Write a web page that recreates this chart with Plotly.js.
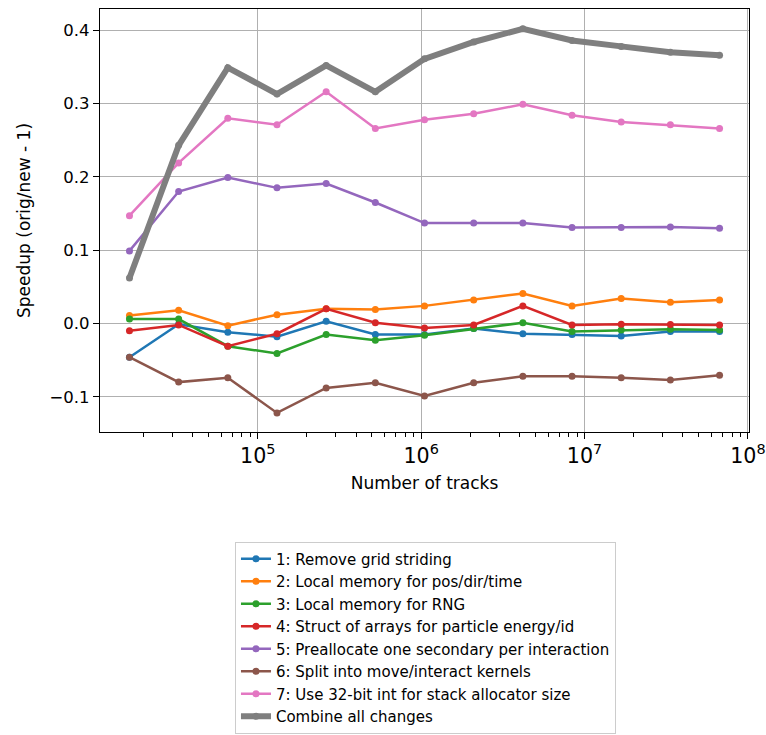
<!DOCTYPE html>
<html>
<head>
<meta charset="utf-8">
<script src="https://cdn.plot.ly/plotly-3.0.1.min.js"></script>
<style>html,body{margin:0;padding:0;background:#fff;}#chart{width:766px;height:735px;}</style>
</head>
<body>
<div id="chart"></div>
<script>
const tracks = [16384, 32768, 65536, 131072, 262144, 524288, 1048576, 2097152, 4194304, 8388608, 16777216, 33554432, 67108864];

const seriesNames = [
  "1: Remove grid striding",
  "2: Local memory for pos/dir/time",
  "3: Local memory for RNG",
  "4: Struct of arrays for particle energy/id",
  "5: Preallocate one secondary per interaction",
  "6: Split into move/interact kernels",
  "7: Use 32-bit int for stack allocator size",
  "Combine all changes"
];

const s1 = [-0.046, -0.001, -0.012, -0.018, 0.003, -0.015, -0.015, -0.007, -0.014, -0.015, -0.017, -0.011, -0.011];
const s2 = [0.011, 0.018, -0.003, 0.012, 0.020, 0.019, 0.024, 0.032, 0.041, 0.024, 0.034, 0.029, 0.032];
const s3 = [0.006, 0.006, -0.031, -0.041, -0.015, -0.023, -0.016, -0.007, 0.001, -0.011, -0.009, -0.008, -0.009];
const s4 = [-0.010, -0.002, -0.031, -0.014, 0.020, 0.001, -0.006, -0.002, 0.024, -0.002, -0.001, -0.0015, -0.002];
const s5 = [0.099, 0.180, 0.199, 0.185, 0.191, 0.165, 0.137, 0.137, 0.137, 0.131, 0.131, 0.1315, 0.130];
const s6 = [-0.046, -0.080, -0.074, -0.122, -0.088, -0.081, -0.099, -0.081, -0.072, -0.072, -0.074, -0.077, -0.0705];
const s7 = [0.147, 0.219, 0.280, 0.271, 0.316, 0.266, 0.278, 0.286, 0.299, 0.284, 0.275, 0.271, 0.266];
const combined = [0.062, 0.243, 0.349, 0.313, 0.352, 0.316, 0.361, 0.384, 0.402, 0.386, 0.378, 0.370, 0.366];

const allSeries = [s1, s2, s3, s4, s5, s6, s7, combined];
const colors = ["#1f77b4", "#ff7f0e", "#2ca02c", "#d62728", "#9467bd", "#8c564b", "#e377c2", "#7f7f7f"];

const traces = allSeries.map((ys, i) => ({
  x: tracks,
  y: ys,
  name: seriesNames[i],
  type: "scatter",
  mode: "lines+markers",
  line: {color: colors[i], width: i === 7 ? 6 : 2.5},
  marker: {color: colors[i], size: 7}
}));

const layout = {
  width: 766,
  height: 735,
  margin: {l: 100, r: 17, t: 9, b: 0},
  paper_bgcolor: "#ffffff",
  plot_bgcolor: "#ffffff",
  font: {family: "DejaVu Sans", color: "#000", size: 16},
  showlegend: true,
  legend: {
    x: 0.5015, xanchor: "center",
    y: 0.002, yanchor: "bottom",
    bordercolor: "#cccccc", borderwidth: 1,
    bgcolor: "#ffffff",
    font: {family: "DejaVu Sans", size: 15, color: "#000"},
    tracegroupgap: 0
  },
  xaxis: {
    type: "log",
    range: [4.034, 8.007],
    dtick: 1,
    exponentformat: "power",
    showgrid: true,
    gridcolor: "#b0b0b0",
    gridwidth: 1.2,
    zeroline: false,
    automargin: false,
    showline: true, mirror: true, linecolor: "#000", linewidth: 1.2,
    ticks: "outside", ticklen: 6, tickwidth: 1.2, tickcolor: "#000",
    tickfont: {size: 16.5},
    minor: {ticks: "outside", ticklen: 3.5, tickwidth: 1, tickcolor: "#000", dtick: "D1", showgrid: false},
    title: {text: "Number of tracks", font: {size: 17}, standoff: 10}
  },
  yaxis: {
    domain: [0.4174, 1],
    range: [-0.148, 0.429],
    tickvals: [-0.1, 0, 0.1, 0.2, 0.3, 0.4],
    tickformat: ".1f",
    showgrid: true,
    gridcolor: "#b0b0b0",
    gridwidth: 1.2,
    zeroline: false,
    automargin: false,
    showline: true, mirror: true, linecolor: "#000", linewidth: 1.2,
    ticks: "outside", ticklen: 6, tickwidth: 1.2, tickcolor: "#000",
    tickfont: {size: 16.5},
    title: {text: "Speedup (orig/new - 1)", font: {size: 17}, standoff: 14}
  }
};

Plotly.newPlot("chart", traces, layout, {displayModeBar: false, staticPlot: true});
</script>
</body>
</html>
